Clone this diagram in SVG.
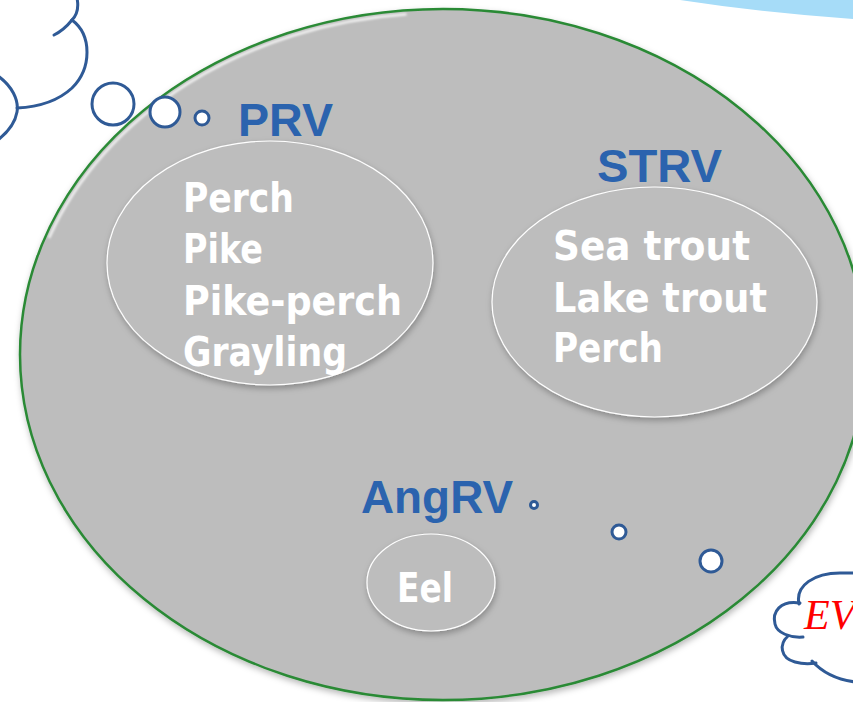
<svg xmlns="http://www.w3.org/2000/svg" width="853" height="702" viewBox="0 0 853 702">
<defs>
<filter id="sh" x="-10%" y="-10%" width="120%" height="125%">
<feDropShadow dx="1" dy="3" stdDeviation="3" flood-color="#000" flood-opacity="0.28"/>
</filter>
<filter id="bl" x="-5%" y="-5%" width="110%" height="110%">
<feGaussianBlur stdDeviation="1"/>
</filter>
<style>
.title{font-family:"Liberation Sans",Arial,sans-serif;font-weight:bold;font-size:47px;fill:#2B63AE}
.fish{font-family:"DejaVu Sans","Liberation Sans",sans-serif;font-weight:bold;font-size:40px;fill:#ffffff}
.inner{fill:#bdbdbd;stroke:#ffffff;stroke-width:1.2}
.bub{fill:#ffffff;stroke:#2F5A96;stroke-width:3}
.cl{fill:none;stroke:#2F5A96;stroke-width:3;stroke-linecap:round}
</style>
</defs>
<rect width="853" height="702" fill="#ffffff"/>
<path d="M 680 0 Q 765 13 853 19 L 853 0 Z" fill="#A6DCF8"/>
<g id="cloud-top-left">
<path class="cl" d="M 77 -2 C 79 8 77 15 72 20"/>
<path class="cl" d="M 72 20 Q 64 30 54 35"/>
<path class="cl" d="M 72 20 C 92 35 92 68 72 88 C 58 101 38 107 17 108"/>
<path class="cl" d="M -2 76 C 12 86 19 100 17 112 C 15 124 8 132 -2 140"/>
</g>
<g id="region-main">
<ellipse cx="443" cy="354.5" rx="423" ry="345.5" fill="#bdbdbd" stroke="#2A8A36" stroke-width="2.5" filter="url(#sh)"/>
<path d="M 49 238 A 419 341.5 0 0 1 406.5 14.3" fill="none" stroke="#ffffff" stroke-width="2.5" stroke-opacity="0.8" filter="url(#bl)"/>
</g>
<g id="bubbles">
<circle class="bub" cx="113" cy="104" r="21"/>
<circle class="bub" cx="165" cy="112" r="15"/>
<circle class="bub" cx="202" cy="118" r="7"/>
<circle class="bub" cx="534" cy="505" r="3.5" stroke-width="2"/>
<circle class="bub" cx="619" cy="532" r="7" stroke-width="2.5"/>
<circle class="bub" cx="711" cy="561" r="11"/>
</g>
<g id="prv">
<ellipse class="inner" cx="270" cy="263" rx="163" ry="122" filter="url(#sh)"/>
<text class="title" x="238" y="136" textLength="95" lengthAdjust="spacingAndGlyphs">PRV</text>
<text class="fish" x="183" y="212" textLength="111" lengthAdjust="spacingAndGlyphs">Perch</text>
<text class="fish" x="183" y="263" textLength="80" lengthAdjust="spacingAndGlyphs">Pike</text>
<text class="fish" x="183" y="315" textLength="219" lengthAdjust="spacingAndGlyphs">Pike-perch</text>
<text class="fish" x="183" y="366" textLength="164" lengthAdjust="spacingAndGlyphs">Grayling</text>
</g>
<g id="strv">
<ellipse class="inner" cx="654.5" cy="302" rx="162.5" ry="115" filter="url(#sh)"/>
<text class="title" x="597" y="182" textLength="125" lengthAdjust="spacingAndGlyphs">STRV</text>
<text class="fish" x="553" y="260" textLength="197" lengthAdjust="spacingAndGlyphs">Sea trout</text>
<text class="fish" x="553" y="312" textLength="214" lengthAdjust="spacingAndGlyphs">Lake trout</text>
<text class="fish" x="553" y="362" textLength="110" lengthAdjust="spacingAndGlyphs">Perch</text>
</g>
<g id="angrv">
<ellipse class="inner" cx="431" cy="582.5" rx="64" ry="48.5" filter="url(#sh)"/>
<text class="title" x="361" y="513" textLength="152" lengthAdjust="spacingAndGlyphs">AngRV</text>
<text class="fish" x="397" y="602" textLength="56" lengthAdjust="spacingAndGlyphs">Eel</text>
</g>
<g id="cloud-ev">
<path d="M 799 604 C 795 585 815 573 840 573 L 856 573 L 856 682 C 838 680 822 672 812 661 L 795 662 C 780 658 779 644 788 636 C 777 633 772 612 783 603 Z" fill="#ffffff"/>
<path class="cl" d="M 799 604 C 795 585 815 573 840 573 L 856 573"/>
<path class="cl" d="M 800 603 C 780 600 772 612 775 624 C 777 633 790 638 803 637"/>
<path class="cl" d="M 788 636 C 779 644 780 658 795 662 C 802 664 810 664 816 663"/>
<path class="cl" d="M 812 661 C 822 672 838 680 856 682"/>
<text x="804" y="629" font-family="'Liberation Serif','Times New Roman',serif" font-style="italic" font-size="42" fill="#FF0000">EV</text>
</g>
<g id="connectors"/>
</svg>
